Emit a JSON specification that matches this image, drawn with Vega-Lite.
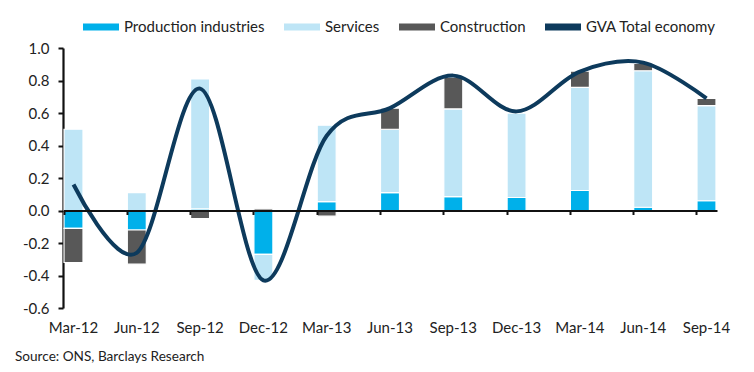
{
  "$schema": "https://vega.github.io/schema/vega-lite/v6.json",
  "width": 654,
  "height": 260,
  "autosize": "none",
  "padding": {"left": 63, "top": 48, "right": 37, "bottom": 64},
  "background": "white",
  "config": {
    "font": "Lato",
    "view": {"stroke": null},
    "axis": {"labelFont": "Lato", "labelColor": "#222", "labelFontSize": 15},
    "axisY": {"labelOverlap": false, "labelBound": false}
  },
  "datasets": {
    "parts": [
      {"q": "Mar-12", "series": "Production industries", "k": 1, "v": -0.11},
      {"q": "Mar-12", "series": "Services", "k": 2, "v": 0.50},
      {"q": "Mar-12", "series": "Construction", "k": 3, "v": -0.21},
      {"q": "Jun-12", "series": "Production industries", "k": 1, "v": -0.12},
      {"q": "Jun-12", "series": "Services", "k": 2, "v": 0.11},
      {"q": "Jun-12", "series": "Construction", "k": 3, "v": -0.21},
      {"q": "Sep-12", "series": "Production industries", "k": 1, "v": 0.01},
      {"q": "Sep-12", "series": "Services", "k": 2, "v": 0.80},
      {"q": "Sep-12", "series": "Construction", "k": 3, "v": -0.05},
      {"q": "Dec-12", "series": "Production industries", "k": 1, "v": -0.27},
      {"q": "Dec-12", "series": "Services", "k": 2, "v": -0.16},
      {"q": "Dec-12", "series": "Construction", "k": 3, "v": 0.01},
      {"q": "Mar-13", "series": "Production industries", "k": 1, "v": 0.055},
      {"q": "Mar-13", "series": "Services", "k": 2, "v": 0.47},
      {"q": "Mar-13", "series": "Construction", "k": 3, "v": -0.035},
      {"q": "Jun-13", "series": "Production industries", "k": 1, "v": 0.11},
      {"q": "Jun-13", "series": "Services", "k": 2, "v": 0.39},
      {"q": "Jun-13", "series": "Construction", "k": 3, "v": 0.13},
      {"q": "Sep-13", "series": "Production industries", "k": 1, "v": 0.085},
      {"q": "Sep-13", "series": "Services", "k": 2, "v": 0.54},
      {"q": "Sep-13", "series": "Construction", "k": 3, "v": 0.195},
      {"q": "Dec-13", "series": "Production industries", "k": 1, "v": 0.08},
      {"q": "Dec-13", "series": "Services", "k": 2, "v": 0.52},
      {"q": "Dec-13", "series": "Construction", "k": 3, "v": 0.0},
      {"q": "Mar-14", "series": "Production industries", "k": 1, "v": 0.123},
      {"q": "Mar-14", "series": "Services", "k": 2, "v": 0.635},
      {"q": "Mar-14", "series": "Construction", "k": 3, "v": 0.10},
      {"q": "Jun-14", "series": "Production industries", "k": 1, "v": 0.02},
      {"q": "Jun-14", "series": "Services", "k": 2, "v": 0.84},
      {"q": "Jun-14", "series": "Construction", "k": 3, "v": 0.045},
      {"q": "Sep-14", "series": "Production industries", "k": 1, "v": 0.06},
      {"q": "Sep-14", "series": "Services", "k": 2, "v": 0.585},
      {"q": "Sep-14", "series": "Construction", "k": 3, "v": 0.045}
    ],
    "gva": [
      {"q": "Mar-12", "gva": 0.16},
      {"q": "Jun-12", "gva": -0.26},
      {"q": "Sep-12", "gva": 0.75},
      {"q": "Dec-12", "gva": -0.43},
      {"q": "Mar-13", "gva": 0.46},
      {"q": "Jun-13", "gva": 0.63},
      {"q": "Sep-13", "gva": 0.83},
      {"q": "Dec-13", "gva": 0.61},
      {"q": "Mar-14", "gva": 0.855},
      {"q": "Jun-14", "gva": 0.91},
      {"q": "Sep-14", "gva": 0.69}
    ]
  },
  "title": {
    "text": "Source: ONS, Barclays Research",
    "orient": "bottom",
    "anchor": "start",
    "frame": "group",
    "dx": -48,
    "offset": 15,
    "fontSize": 13.6,
    "fontWeight": "normal",
    "font": "Lato",
    "color": "#222"
  },
  "layer": [
    {
      "data": {"name": "parts"},
      "mark": {"type": "bar", "stroke": "white", "strokeWidth": 1.2},
      "encoding": {
        "x": {
          "field": "q", "type": "ordinal", "sort": null,
          "scale": {"type": "band", "paddingInner": 0.7, "paddingOuter": 0.016},
          "axis": {"orient": "bottom", "offset": -97.5, "labels": false, "title": null,
                   "domainColor": "#111", "domainWidth": 2.2, "tickColor": "#111",
                   "tickWidth": 2, "tickSize": 4, "bandPosition": 0, "zindex": 1}
        },
        "y": {
          "field": "v", "type": "quantitative", "stack": "zero",
          "scale": {"domain": [-0.6, 1.0], "nice": false},
          "axis": {"title": null, "values": [-0.6, -0.4, -0.2, 0, 0.2, 0.4, 0.6, 0.8, 1.0],
                   "labelExpr": "replace(format(datum.value, '.1f'), '\u2212', '-')",
                   "labelOverlap": false,
                   "domainColor": "#111", "domainWidth": 2.2, "tickColor": "#111",
                   "tickWidth": 2, "tickSize": 5, "grid": false, "labelPadding": 9}
        },
        "color": {
          "field": "series", "type": "nominal",
          "scale": {"domain": ["Production industries", "Services", "Construction", "GVA Total economy"],
                    "range": ["#00b0ea", "#bee5f6", "#585858", "#0d3a5c"]},
          "legend": {"title": null, "orient": "none", "legendX": 20, "legendY": -39,
                     "direction": "horizontal", "symbolType": "M-1,-0.2H1V0.2H-1Z",
                     "symbolSize": 1296, "labelFontSize": 15, "labelColor": "#222",
                     "labelFont": "Lato", "columnPadding": 19, "labelOffset": 5,
                     "symbolStrokeWidth": 0, "symbolOpacity": 1}
        },
        "order": {"field": "k"}
      }
    },
    {
      "data": {"name": "gva"},
      "mark": {"type": "line", "interpolate": "cardinal", "strokeWidth": 4},
      "encoding": {
        "x": {
          "field": "q", "type": "ordinal", "sort": null,
          "scale": {"type": "band", "paddingInner": 0.7, "paddingOuter": 0.016},
          "axis": {"orient": "bottom", "domain": false, "ticks": false, "title": null,
                   "labelPadding": 12, "labelAngle": 0}
        },
        "y": {
          "field": "gva", "type": "quantitative",
          "scale": {"domain": [-0.6, 1.0], "nice": false},
          "axis": {"title": null, "values": [-0.6, -0.4, -0.2, 0, 0.2, 0.4, 0.6, 0.8, 1.0],
                   "labelExpr": "replace(format(datum.value, '.1f'), '\u2212', '-')",
                   "labelOverlap": false,
                   "domainColor": "#111", "domainWidth": 2.2, "tickColor": "#111",
                   "tickWidth": 2, "tickSize": 5, "grid": false, "labelPadding": 9}
        },
        "color": {"datum": "GVA Total economy"}
      }
    }
  ],
  "resolve": {"scale": {"x": "independent"}}
}
